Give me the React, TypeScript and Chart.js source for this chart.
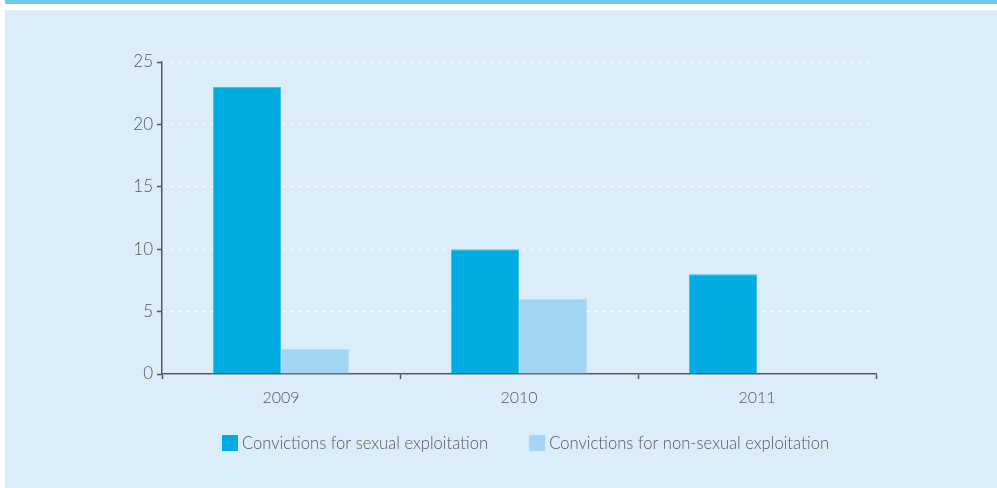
import React, { useEffect, useRef } from "react";
import { Chart, registerables } from "chart.js";

Chart.register(...registerables);

const categories = ["2009", "2010", "2011"];
const sexualExploitation = [23, 10, 8];
const nonSexualExploitation = [2, 6, 0];
const seriesLabels = ["Convictions for sexual exploitation", "Convictions for non-sexual exploitation"];
const yTicks = [0, 5, 10, 15, 20, 25];

const FONT = "Lato, 'Open Sans', sans-serif";
const TEXT = "#58595b";
const AXIS = "#555659";

const backgroundPlugin = {
  id: "pageBackground",
  beforeDraw(chart: any) {
    const { ctx, width, height } = chart;
    ctx.save();
    ctx.fillStyle = "#ffffff";
    ctx.fillRect(0, 0, width, height);
    ctx.fillStyle = "#73c7ed";
    ctx.fillRect(5, 0, width - 5, 4);
    ctx.fillStyle = "#dbedf8";
    ctx.fillRect(5, 10, width - 5, height - 10);
    ctx.restore();
  },
};

const legendPlugin = {
  id: "customLegend",
  afterDraw(chart: any) {
    const { ctx } = chart;
    ctx.save();
    ctx.font = `300 16.6px ${FONT}`;
    ctx.textBaseline = "middle";
    const box = 16;
    const gapText = 4;
    const gapItems = 41;
    const items = chart.data.datasets.map((d: any) => ({
      label: d.label,
      color: d.backgroundColor,
      w: box + gapText + ctx.measureText(d.label).width,
    }));
    const total = items.reduce((s: number, it: any) => s + it.w, 0) + gapItems * (items.length - 1);
    let x = 525.5 - total / 2;
    const cy = 443;
    items.forEach((it: any) => {
      ctx.fillStyle = it.color;
      ctx.fillRect(x, cy - box / 2, box, box);
      ctx.fillStyle = TEXT;
      ctx.fillText(it.label, x + box + gapText, cy + 1);
      x += it.w + gapItems;
    });
    ctx.restore();
  },
};

export default function App() {
  const ref = useRef<HTMLCanvasElement>(null);
  useEffect(() => {
    if (!ref.current) return;
    const chart = new Chart(ref.current, {
      type: "bar",
      data: {
        labels: categories,
        datasets: [
          {
            label: seriesLabels[0],
            data: sexualExploitation,
            backgroundColor: "#00ade3",
            borderColor: "#3cc0ec",
            borderWidth: { top: 1, left: 1, right: 1, bottom: 0 },
            categoryPercentage: 0.572,
            barPercentage: 1,
          },
          {
            label: seriesLabels[1],
            data: nonSexualExploitation,
            backgroundColor: "#a3d6f2",
            borderColor: "#b5def5",
            borderWidth: { top: 1, left: 1, right: 1, bottom: 0 },
            categoryPercentage: 0.572,
            barPercentage: 1,
          },
        ],
      },
      options: {
        responsive: false,
        animation: false,
        layout: { padding: { top: 62, right: 121, left: 0, bottom: 0 } },
        plugins: { legend: { display: false }, tooltip: { enabled: false } },
        scales: {
          x: {
            offset: true,
            grid: {
              offset: true,
              drawOnChartArea: false,
              drawTicks: true,
              tickLength: 5,
              tickColor: AXIS,
              tickWidth: 1.5,
            },
            border: { display: true, color: AXIS, width: 1.5 },
            ticks: { color: TEXT, font: { family: FONT, size: 16, weight: "300" }, padding: 9 },
            afterFit(scale: any) {
              scale.height = 114;
            },
          },
          y: {
            min: 0,
            max: 25,
            afterBuildTicks(scale: any) {
              scale.ticks = yTicks.map((v) => ({ value: v }));
            },
            grid: {
              color: "#ffffff",
              lineWidth: 1,
              drawTicks: true,
              tickLength: 5,
              tickColor: AXIS,
              tickWidth: 1.5,
              tickBorderDash: [],
            },
            border: { display: true, color: AXIS, width: 1.5, dash: [3, 5] },
            ticks: { color: TEXT, font: { family: FONT, size: 17, weight: "300" }, padding: 4 },
            afterFit(scale: any) {
              scale.width = 162;
            },
          },
        },
      },
      plugins: [backgroundPlugin, legendPlugin],
    });
    return () => chart.destroy();
  }, []);
  return (
    <div style={{ position: "absolute", left: 0, top: 0, width: 997, height: 488 }}>
      <canvas ref={ref} width={997} height={488} />
    </div>
  );
}
